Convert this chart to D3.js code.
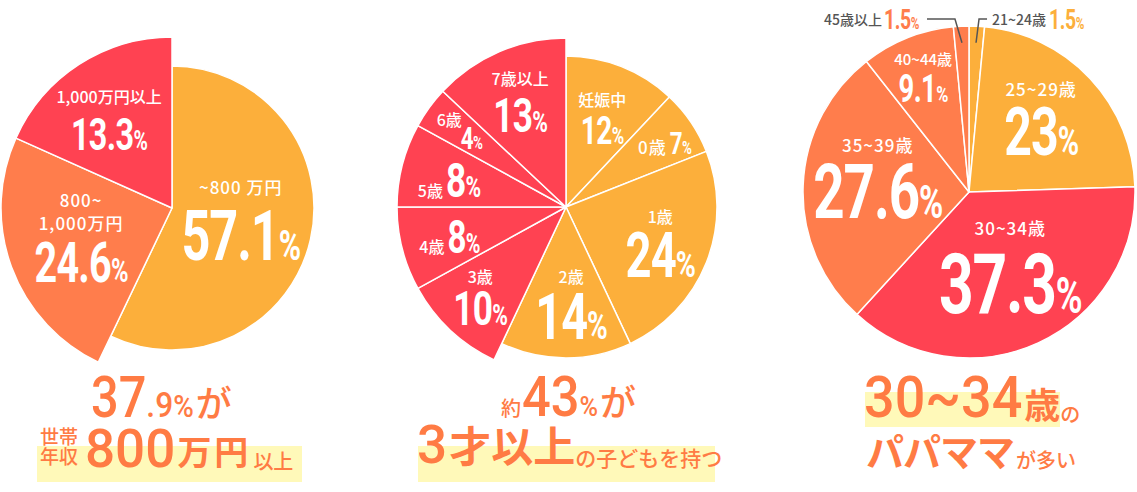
<!DOCTYPE html>
<html>
<head>
<meta charset="utf-8">
<script src="https://cdn.jsdelivr.net/npm/d3@7"></script>
<style>
  body { margin: 0; background: #fff; }
</style>
</head>
<body>
<svg id="chart" width="1137" height="492"></svg>
<script>
// --- data ---
const incomeLabels = ["~800 万円", "800~|1,000万円", "1,000万円以上"];
const incomeShares = [57.1, 24.6, 13.3];
const incomeGroups = ["orange", "coral", "red"];

const childLabels = ["妊娠中", "0歳", "1歳", "2歳", "3歳", "4歳", "5歳", "6歳", "7歳以上"];
const childShares = [12, 7, 24, 14, 10, 8, 8, 4, 13];
const childGroups = ["orange", "orange", "orange", "orange", "red", "red", "red", "red", "red"];

const parentLabels = ["21~24歳", "25~29歳", "30~34歳", "35~39歳", "40~44歳", "45歳以上"];
const parentShares = [1.5, 23, 37.3, 27.6, 9.1, 1.5];
const parentGroups = ["orange", "orange", "red", "coral", "coral", "coral"];

// --- label layout (f = radius fraction, da = angle nudge in deg, size = number font px) ---
const incomeLayout = [
  { type: "stack", f: 0.52, da: 8.6, size: 70, gap: 16, cs: 17 },
  { type: "stack", f: 0.62, da: -10.8, size: 55, gap: 13, cs: 17 },
  { type: "stack", f: 0.57, da: -7.3, size: 45, gap: 15, cs: 16 }
];
const childLayout = [
  { type: "stack", f: 0.56, da: 3.7, size: 39, gap: 11, cs: 16 },
  { type: "inline", f: 0.87, da: 4.9, size: 31, cs: 17 },
  { type: "stack", f: 0.70, da: 5.3, size: 63, gap: 9, cs: 16 },
  { type: "stack", f: 0.72, da: -2.7, size: 65, gap: 9, cs: 16 },
  { type: "stack", f: 0.78, da: -2.6, size: 49, gap: 7, cs: 16 },
  { type: "inline", f: 0.63, da: -1.6, size: 46, cs: 16 },
  { type: "inline", f: 0.63, da: 0.6, size: 49, cs: 16 },
  { type: "corner", f: 0.69, da: 0, size: 31, cs: 16 },
  { type: "stack", f: 0.61, da: -3, size: 49, gap: 12, cs: 16 }
];
const parentLayout = [
  { type: "leader", side: "right", bend: 3, len: 8, size: 27 },
  { type: "stack", f: 0.57, da: 2.9, size: 67, gap: 11, cs: 17 },
  { type: "stack", f: 0.60, da: 0.2, size: 84, gap: 18, cs: 17 },
  { type: "stack", f: 0.55, da: -1.3, size: 76, gap: 12, cs: 17 },
  { type: "stack", f: 0.68, da: -2.2, size: 38, gap: 10, cs: 15 },
  { type: "leader", side: "left", bend: -7, len: 28, size: 27 }
];

const NUM_FONT = "Roboto, 'DejaVu Sans', sans-serif";
const JP_FONT = "'Noto Sans CJK JP', 'Noto Sans', sans-serif";
const CAP = 0.711;      // cap height of Roboto digits
const NUM_SX = 0.72;    // condense the big figures
const TEXT_ORANGE = "#ff7b44";

const color = d3.scaleOrdinal()
  .domain(["orange", "coral", "red"])
  .range(["#fcaf3b", "#ff7d4c", "#ff4252"]);

const svg = d3.select("#chart");
const fmt = v => String(+v.toFixed(1));

const charts = [
  { labels: incomeLabels, shares: incomeShares, groups: incomeGroups, layout: incomeLayout,
    cx: 172, cy: 208, radius: { orange: 142, coral: 171, red: 171 } },
  { labels: childLabels, shares: childShares, groups: childGroups, layout: childLayout,
    cx: 566, cy: 207, radius: { orange: 151, red: 169 } },
  { labels: parentLabels, shares: parentShares, groups: parentGroups, layout: parentLayout,
    cx: 969, cy: 192, radius: { orange: 166, coral: 166, red: 166 } }
];

function numberText(g, x, y, size, value, fill, anchor) {
  const t = g.append("text")
    .attr("transform", `translate(${x},${y}) scale(${NUM_SX},1)`)
    .attr("text-anchor", anchor)
    .attr("font-family", NUM_FONT)
    .attr("font-weight", 700)
    .attr("font-size", size)
    .attr("letter-spacing", "-0.02em")
    .attr("fill", fill);
  t.append("tspan").text(fmt(value));
  t.append("tspan").attr("font-size", size * 0.6).text("%");
  return t.node().getComputedTextLength() * NUM_SX;
}

function caption(g, x, y, size, text, anchor, fill) {
  const t = g.append("text")
    .attr("x", x).attr("y", y)
    .attr("text-anchor", anchor)
    .attr("font-family", JP_FONT)
    .attr("font-weight", 500)
    .attr("font-size", size)
    .attr("letter-spacing", size >= 17 ? 1 : 0)
    .attr("fill", fill || "#fff")
    .text(text);
  return t.node().getComputedTextLength();
}

function drawLabel(g, d, L, R) {
  const mid = (d.startAngle + d.endAngle) / 2 + (L.da || 0) * Math.PI / 180;

  if (L.type === "leader") {
    const r0 = 0.9 * R;
    const sx = r0 * Math.sin(mid), sy = -r0 * Math.cos(mid);
    const top = -R - 7;
    const dir = L.side === "left" ? -1 : 1;
    const ex = sx + L.bend + dir * L.len;
    g.append("path")
      .attr("d", d3.line()([[sx, sy], [sx + L.bend, top], [ex, top]]))
      .attr("fill", "none")
      .attr("stroke", "#555")
      .attr("stroke-width", 1.5);
    if (L.side === "left") {
      const w = numberText(g, ex - 8, top + 10, L.size, d.data.share, color(d.data.group), "end");
      caption(g, ex - 8 - w - 2, top + 6, 14, d.data.label, "end", "#555");
    } else {
      const w = caption(g, ex + 5, top + 6, 14, d.data.label, "start", "#555");
      numberText(g, ex + 5 + w + 3, top + 10, L.size, d.data.share, color(d.data.group), "start");
    }
    return;
  }

  const r = L.f * R;
  const ax = r * Math.sin(mid), ay = -r * Math.cos(mid);
  const cap = L.size * CAP;
  const base = ay + cap / 2;
  const w = numberText(g, ax, base, L.size, d.data.share, "#fff", "middle");

  if (L.type === "stack") {
    const lines = d.data.label.split("|");
    lines.forEach((line, i) => {
      const y = base - cap - L.gap - (lines.length - 1 - i) * L.cs * 1.35;
      caption(g, ax, y, L.cs, line, "middle");
    });
  } else if (L.type === "inline") {
    caption(g, ax - w / 2 - 3, base, L.cs, d.data.label, "end");
  } else if (L.type === "corner") {
    caption(g, ax - w / 2 + 1, base - cap - 1, L.cs, d.data.label, "end");
  }
}

function drawPie(c) {
  const rows = c.labels.map((label, i) => ({ label, share: c.shares[i], group: c.groups[i] }));
  // shares that do not add up to 100: the gap is swept into the last slice, as in the original
  const rest = 100 - d3.sum(c.shares);
  const pie = d3.pie().sort(null).value(d => d.share);
  const arcs = pie(rest > 0.01 ? rows.concat({ share: rest }) : rows);
  if (rest > 0.01) {
    const filler = arcs.pop();
    arcs[arcs.length - 1].endAngle = filler.endAngle;
  }

  const outer = d => c.radius[d.data.group];
  const arc = d3.arc().innerRadius(0).outerRadius(outer);

  const g = svg.append("g").attr("transform", `translate(${c.cx},${c.cy})`);
  g.selectAll("path.slice")
    .data(arcs)
    .join("path")
    .attr("class", "slice")
    .attr("d", arc)
    .attr("fill", d => color(d.data.group))
    .attr("stroke", "#fff")
    .attr("stroke-width", 1.5)
    .attr("stroke-linejoin", "round");

  arcs.forEach((d, i) => drawLabel(g, d, c.layout[i], outer(d)));
}

charts.forEach(drawPie);

// --- headline texts under each pie ---
function highlight(x0, y0, x1, y1) {
  svg.append("rect")
    .attr("x", x0).attr("y", y0)
    .attr("width", x1 - x0).attr("height", y1 - y0)
    .attr("fill", "#fff9b9");
}

function richLine(x, y, pieces) {
  let cx = x;
  pieces.forEach(p => {
    const sx = p.sx || 1;
    const t = svg.append("text")
      .attr("transform", `translate(${cx},${y + (p.dy || 0)}) scale(${sx},1)`)
      .attr("font-family", p.jp ? JP_FONT : NUM_FONT)
      .attr("font-weight", p.w || 500)
      .attr("font-size", p.size)
      .attr("letter-spacing", p.ls || 0)
      .attr("fill", TEXT_ORANGE)
      .text(p.t);
    cx += t.node().getComputedTextLength() * sx + (p.gap || 0);
  });
}

const over800 = d3.sum(incomeShares.slice(1)).toFixed(1).split(".");
const over3 = d3.sum(childShares.slice(4)).toFixed(0);

highlight(37, 446, 302, 482);
highlight(418, 446, 715, 482);
highlight(865, 392, 1060, 427);

// left
richLine(91, 417, [
  { t: over800[0], size: 58, sx: 0.84 },
  { t: "." + over800[1], size: 36, sx: 0.88 },
  { t: "%", size: 31, sx: 0.9, gap: 2 },
  { t: "が", size: 36, jp: true }
]);
richLine(40, 444, [{ t: "世帯", size: 19, jp: true }]);
richLine(40, 464, [{ t: "年収", size: 19, jp: true }]);
richLine(85, 467, [
  { t: "800", size: 53, gap: 2 },
  { t: "万円", size: 34, jp: true, w: 700, ls: 3, dy: -2, gap: 2 },
  { t: "以上", size: 20, jp: true, dy: 2 }
]);

// middle
richLine(501, 416, [
  { t: "約", size: 20, jp: true, gap: 1 },
  { t: over3, size: 55, sx: 0.92 },
  { t: "%", size: 28, sx: 0.9, gap: 2 },
  { t: "が", size: 36, jp: true }
]);
richLine(417, 463, [
  { t: "3", size: 53, gap: 2 },
  { t: "才以上", size: 42, jp: true, w: 700, dy: -1 },
  { t: "の子どもを持つ", size: 21, jp: true, dy: 3 }
]);

// right
richLine(864, 417, [
  { t: "30~34", size: 58, sx: 0.93, gap: 2 },
  { t: "歳", size: 36, jp: true, w: 700, dy: 2 },
  { t: "の", size: 20, jp: true, dy: 5 }
]);
richLine(866, 466, [
  { t: "パパママ", size: 38, jp: true, w: 700, ls: -1, gap: 2 },
  { t: "が多い", size: 20, jp: true, dy: 2 }
]);
</script>
</body>
</html>
